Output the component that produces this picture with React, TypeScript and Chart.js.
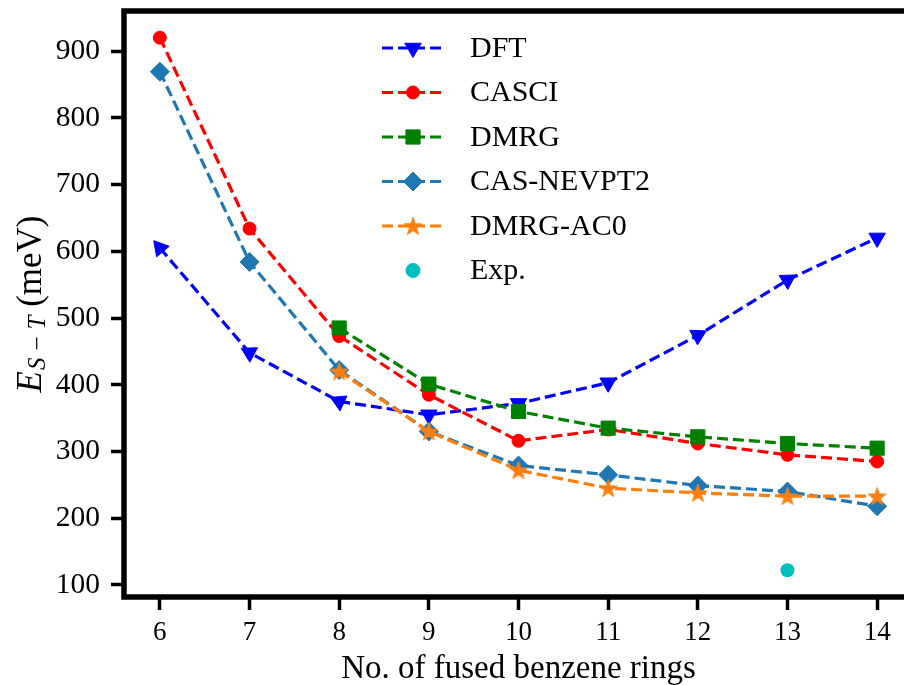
import React, { useEffect, useRef } from "react";
import { Chart, registerables } from "chart.js";

Chart.register(...registerables);

// ---- data ----
const rings = [6, 7, 8, 9, 10, 11, 12, 13, 14];
const dft = [605, 448, 375, 355, 372, 403, 474, 557, 620];
const casci = [920, 634, 473, 385, 316, 333, 312, 295, 285];
const dmrg = [null, null, 485, 401, 360, 335, 322, 312, 305];
const nevpt2 = [869, 584, 422, 330, 279, 265, 249, 240, 218];
const ac0 = [null, null, 420, 330, 272, 245, 238, 233, 233];
const expRings = [13];
const expValues = [122];
const xTicks = [6, 7, 8, 9, 10, 11, 12, 13, 14];
const yTicks = [100, 200, 300, 400, 500, 600, 700, 800, 900];
const seriesNames = ["DFT", "CASCI", "DMRG", "CAS-NEVPT2", "DMRG-AC0", "Exp."];
const dftMarkerRotation = [-40, -62, 175, 180, 180, 180, 62, 58, 60];

// ---- style ----
const W = 930;
const H = 685;
const AREA = { left: 124, top: 9.5, right: 913, bottom: 597 };
const SERIF = '"Liberation Serif", "Times New Roman", serif';
const COLORS = ["#0000ff", "#ff0000", "#008000", "#1f77b4", "#ff7f0e", "#00bfbf"];
const DASH = [11, 5];

function pts(xs: number[], ys: (number | null)[]) {
  const out: { x: number; y: number }[] = [];
  xs.forEach((x, i) => {
    const y = ys[i];
    if (y !== null && y !== undefined) out.push({ x, y });
  });
  return out;
}

function starPath(ctx: CanvasRenderingContext2D, cx: number, cy: number, R: number, r: number) {
  ctx.beginPath();
  for (let i = 0; i < 10; i++) {
    const rad = i % 2 === 0 ? R : r;
    const a = -Math.PI / 2 + (i * Math.PI) / 5;
    const px = cx + rad * Math.cos(a);
    const py = cy + rad * Math.sin(a);
    if (i === 0) ctx.moveTo(px, py);
    else ctx.lineTo(px, py);
  }
  ctx.closePath();
}

function makeStar(color: string) {
  const c = document.createElement("canvas");
  c.width = 22;
  c.height = 22;
  const g = c.getContext("2d")!;
  starPath(g, 11, 11.8, 9.4, 3.7);
  g.fillStyle = color;
  g.fill();
  g.strokeStyle = color;
  g.lineWidth = 1;
  g.lineJoin = "miter";
  g.stroke();
  return c;
}

function drawMarker(ctx: CanvasRenderingContext2D, kind: string, x: number, y: number, color: string, star?: HTMLCanvasElement) {
  ctx.save();
  ctx.fillStyle = color;
  ctx.strokeStyle = color;
  ctx.lineWidth = 1;
  ctx.setLineDash([]);
  ctx.beginPath();
  if (kind === "tri") {
    const r = 9.5;
    for (let k = 0; k < 3; k++) {
      const a = Math.PI + (k * 2 * Math.PI) / 3;
      const px = x + Math.sin(a) * r;
      const py = y - Math.cos(a) * r;
      if (k === 0) ctx.moveTo(px, py);
      else ctx.lineTo(px, py);
    }
    ctx.closePath();
  } else if (kind === "circle") {
    ctx.arc(x, y, 6.5, 0, Math.PI * 2);
  } else if (kind === "rect") {
    ctx.rect(x - 7.1, y - 7.1, 14.2, 14.2);
  } else if (kind === "diamond") {
    const r = 9.5;
    ctx.moveTo(x, y - r);
    ctx.lineTo(x + r, y);
    ctx.lineTo(x, y + r);
    ctx.lineTo(x - r, y);
    ctx.closePath();
  } else if (kind === "expc") {
    ctx.arc(x, y, 7, 0, Math.PI * 2);
  }
  if (kind === "star" && star) {
    ctx.drawImage(star, x - star.width / 2, y - star.height / 2);
  } else {
    ctx.fill();
    ctx.stroke();
  }
  ctx.restore();
}

export default function App() {
  const ref = useRef<HTMLCanvasElement | null>(null);

  useEffect(() => {
    if (!ref.current) return;
    const starImg = makeStar(COLORS[4]);

    const framePlugin = {
      id: "frameAndText",
      afterDatasetsDraw(chart: any) {
        const { ctx, chartArea } = chart;
        ctx.save();
        ctx.strokeStyle = "#000";
        ctx.lineWidth = 5.5;
        ctx.setLineDash([]);
        ctx.strokeRect(chartArea.left, chartArea.top, chartArea.right - chartArea.left, chartArea.bottom - chartArea.top);
        ctx.restore();
      },
      afterDraw(chart: any) {
        const { ctx, chartArea } = chart;
        ctx.save();
        // x title
        ctx.fillStyle = "#000";
        ctx.font = `33px ${SERIF}`;
        ctx.textAlign = "center";
        ctx.textBaseline = "alphabetic";
        ctx.fillText("No. of fused benzene rings", 518.5, 678);

        // y title with subscript
        const pieces = [
          { t: "E", f: `italic 35px ${SERIF}`, dy: 0, gap: 1 },
          { t: "S", f: `italic 25px ${SERIF}`, dy: 4, gap: 7 },
          { t: "\u2212", f: `25px ${SERIF}`, dy: 4, gap: 7 },
          { t: "T", f: `italic 25px ${SERIF}`, dy: 4, gap: 0 },
          { t: " (meV)", f: `35px ${SERIF}`, dy: 0, gap: 0 },
        ];
        let total = 0;
        const widths = pieces.map((p) => {
          ctx.font = p.f;
          const w = ctx.measureText(p.t).width;
          total += w + p.gap;
          return w;
        });
        ctx.translate(41, (chartArea.top + chartArea.bottom) / 2);
        ctx.rotate(-Math.PI / 2);
        ctx.textAlign = "left";
        let cx = -total / 2;
        pieces.forEach((p, i) => {
          ctx.font = p.f;
          ctx.fillText(p.t, cx, p.dy);
          cx += widths[i] + p.gap;
        });
        ctx.restore();

        // legend
        ctx.save();
        const kinds = ["tri", "circle", "rect", "diamond", "star", "expc"];
        seriesNames.forEach((name, i) => {
          const y = 48 + i * 44.5;
          if (i < 5) {
            ctx.beginPath();
            ctx.strokeStyle = COLORS[i];
            ctx.lineWidth = 3.2;
            ctx.setLineDash(DASH);
            ctx.moveTo(382, y);
            ctx.lineTo(446, y);
            ctx.stroke();
          }
          drawMarker(ctx, kinds[i], 413, y, COLORS[i], starImg);
          ctx.setLineDash([]);
          ctx.fillStyle = "#000";
          ctx.font = `30px ${SERIF}`;
          ctx.textAlign = "left";
          ctx.textBaseline = "middle";
          ctx.fillText(name, 470, y + 1);
        });
        ctx.restore();
      },
    };

    const lineBase = {
      type: "line" as const,
      showLine: true,
      borderWidth: 3.2,
      borderDash: DASH,
      fill: false,
      tension: 0,
      pointBorderWidth: 1,
    };

    const chart = new Chart(ref.current, {
      type: "line",
      data: {
        datasets: [
          {
            ...lineBase,
            label: seriesNames[0],
            data: pts(rings, dft),
            borderColor: COLORS[0],
            backgroundColor: COLORS[0],
            pointBackgroundColor: COLORS[0],
            pointBorderColor: COLORS[0],
            pointStyle: "triangle",
            pointRadius: 9.5,
            pointRotation: (c: any) => dftMarkerRotation[c.dataIndex] ?? 180,
            order: 6,
          },
          {
            ...lineBase,
            label: seriesNames[1],
            data: pts(rings, casci),
            borderColor: COLORS[1],
            backgroundColor: COLORS[1],
            pointBackgroundColor: COLORS[1],
            pointBorderColor: COLORS[1],
            pointStyle: "circle",
            pointRadius: 6.5,
            order: 5,
          },
          {
            ...lineBase,
            label: seriesNames[2],
            data: pts(rings, dmrg),
            borderColor: COLORS[2],
            backgroundColor: COLORS[2],
            pointBackgroundColor: COLORS[2],
            pointBorderColor: COLORS[2],
            pointStyle: "rect",
            pointRadius: 10,
            order: 4,
          },
          {
            ...lineBase,
            label: seriesNames[3],
            data: pts(rings, nevpt2),
            borderColor: COLORS[3],
            backgroundColor: COLORS[3],
            pointBackgroundColor: COLORS[3],
            pointBorderColor: COLORS[3],
            pointStyle: "rectRot",
            pointRadius: 9.5,
            order: 3,
          },
          {
            ...lineBase,
            label: seriesNames[4],
            data: pts(rings, ac0),
            borderColor: COLORS[4],
            backgroundColor: COLORS[4],
            pointBackgroundColor: COLORS[4],
            pointBorderColor: COLORS[4],
            pointStyle: starImg as any,
            pointRadius: 9,
            order: 2,
          },
          {
            type: "line" as const,
            label: seriesNames[5],
            data: pts(expRings, expValues),
            showLine: false,
            borderColor: COLORS[5],
            backgroundColor: COLORS[5],
            pointBackgroundColor: COLORS[5],
            pointBorderColor: COLORS[5],
            pointStyle: "circle",
            pointRadius: 7,
            pointBorderWidth: 0,
            order: 1,
          },
        ] as any,
      },
      options: {
        responsive: false,
        maintainAspectRatio: false,
        animation: false,
        devicePixelRatio: 1,
        layout: { padding: { left: 0, top: AREA.top, right: W - AREA.right, bottom: 0 } },
        plugins: { legend: { display: false }, tooltip: { enabled: false }, title: { display: false } },
        scales: {
          x: {
            type: "linear",
            min: 5.6,
            max: 14.4,
            afterBuildTicks: (s: any) => {
              s.ticks = xTicks.map((v) => ({ value: v }));
            },
            afterFit: (s: any) => {
              s.height = H - AREA.bottom;
              s.paddingLeft = 0;
              s.paddingRight = 0;
            },
            grid: { display: true, drawOnChartArea: false, drawTicks: true, tickLength: 13, tickWidth: 3.5, tickColor: "#000" },
            border: { display: false },
            ticks: {
              autoSkip: false,
              maxRotation: 0,
              padding: 7,
              color: "#000",
              font: { family: SERIF, size: 27 },
              callback: (v: any) => String(v),
            },
          },
          y: {
            type: "linear",
            min: 82,
            max: 960,
            afterBuildTicks: (s: any) => {
              s.ticks = yTicks.map((v) => ({ value: v }));
            },
            afterFit: (s: any) => {
              s.width = AREA.left;
              s.paddingTop = 0;
              s.paddingBottom = 0;
            },
            grid: { display: true, drawOnChartArea: false, drawTicks: true, tickLength: 13, tickWidth: 3.5, tickColor: "#000" },
            border: { display: false },
            ticks: {
              autoSkip: false,
              padding: 11,
              color: "#000",
              font: { family: SERIF, size: 29.5 },
              callback: (v: any) => String(v),
            },
          },
        },
      } as any,
      plugins: [framePlugin],
    });

    return () => chart.destroy();
  }, []);

  return (
    <div style={{ position: "fixed", left: 0, top: 0, width: 904, height: 685, overflow: "hidden", background: "#fff" }}>
      <canvas ref={ref} width={W} height={H} style={{ width: W, height: H, display: "block" }} />
    </div>
  );
}
